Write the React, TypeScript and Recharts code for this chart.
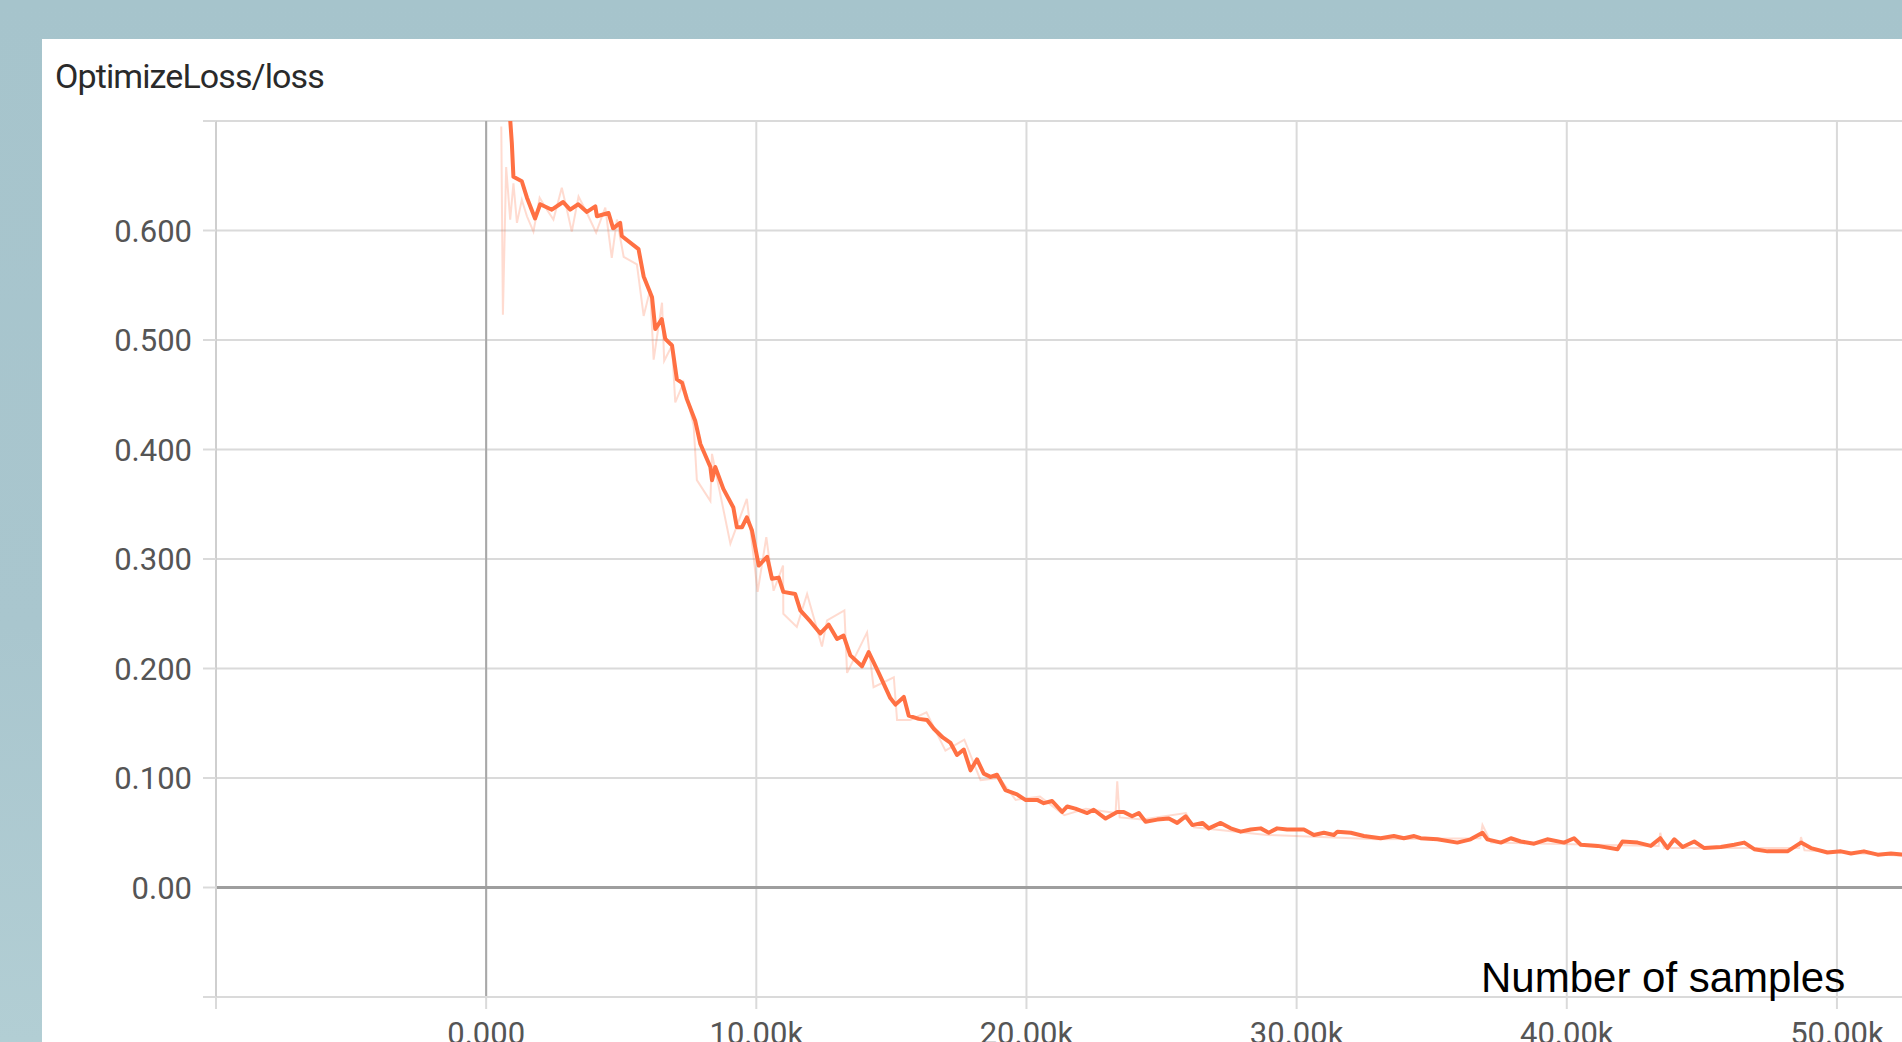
import React from "react";
import { LineChart, Line, XAxis, YAxis, CartesianGrid, ReferenceLine } from "recharts";

const chartTitle = "OptimizeLoss/loss";
const xAxisCaption = "Number of samples";

// smoothed loss (step in thousands of samples)
const smoothStepsK = [
  0.78, 0.95, 1.01, 1.32, 1.51, 1.81, 2.0, 2.43, 2.85, 3.11, 3.41, 3.73, 4.04, 4.1, 4.53, 4.7, 4.96, 5.02,
  5.64, 5.83, 6.14, 6.26, 6.5, 6.63, 6.88, 7.06, 7.25, 7.43, 7.74, 7.93, 8.3, 8.36, 8.48, 8.78, 9.15, 9.28,
  9.47, 9.65, 9.84, 10.09, 10.4, 10.58, 10.83, 11.0, 11.44, 11.63, 12.0, 12.37, 12.68, 12.99, 13.23, 13.48,
  13.91, 14.16, 14.53, 14.96, 15.15, 15.46, 15.64, 16.01, 16.32, 16.57, 16.9, 17.19, 17.43, 17.68, 17.93,
  18.17, 18.42, 18.67, 18.91, 19.22, 19.65, 19.96, 20.4, 20.64, 20.95, 21.32, 21.51, 21.81, 22.25, 22.49,
  22.93, 23.36, 23.6, 23.91, 24.16, 24.41, 24.84, 25.27, 25.58, 25.89, 26.14, 26.51, 26.75, 27.19, 27.56,
  27.93, 28.3, 28.67, 28.97, 29.28, 29.65, 30.03, 30.27, 30.64, 31.01, 31.38, 31.51, 32.0, 32.49, 33.11,
  33.6, 33.97, 34.35, 34.59, 35.21, 35.95, 36.44, 36.88, 37.06, 37.56, 37.93, 38.3, 38.79, 39.28, 39.9,
  40.27, 40.52, 41.14, 41.88, 42.06, 42.62, 43.11, 43.46, 43.73, 43.98, 44.29, 44.72, 45.09, 45.7, 46.2,
  46.57, 46.94, 47.43, 48.17, 48.67, 49.04, 49.65, 50.15, 50.52, 51.0, 51.51, 52.0, 52.43,
];
const smoothLoss = [
  0.74, 0.68, 0.649, 0.645, 0.63, 0.611, 0.624, 0.619, 0.626, 0.619, 0.624, 0.617, 0.622, 0.613, 0.616, 0.602,
  0.607, 0.595, 0.583, 0.558, 0.539, 0.51, 0.519, 0.501, 0.495, 0.464, 0.461, 0.446, 0.426, 0.405, 0.384,
  0.372, 0.384, 0.364, 0.347, 0.329, 0.329, 0.338, 0.326, 0.294, 0.302, 0.282, 0.283, 0.27, 0.268, 0.253,
  0.243, 0.232, 0.24, 0.227, 0.23, 0.212, 0.202, 0.215, 0.196, 0.173, 0.167, 0.174, 0.157, 0.154, 0.153,
  0.145, 0.137, 0.132, 0.121, 0.126, 0.107, 0.117, 0.104, 0.101, 0.103, 0.089, 0.085, 0.08, 0.08, 0.077,
  0.079, 0.069, 0.074, 0.072, 0.068, 0.071, 0.063, 0.069, 0.069, 0.065, 0.068, 0.06, 0.062, 0.063, 0.059,
  0.065, 0.057, 0.059, 0.054, 0.059, 0.054, 0.051, 0.053, 0.054, 0.05, 0.054, 0.053, 0.053, 0.053, 0.048,
  0.05, 0.048, 0.051, 0.05, 0.047, 0.045, 0.047, 0.045, 0.047, 0.045, 0.044, 0.041, 0.044, 0.05, 0.044,
  0.041, 0.045, 0.042, 0.04, 0.044, 0.041, 0.045, 0.039, 0.038, 0.035, 0.042, 0.041, 0.038, 0.045, 0.036,
  0.044, 0.037, 0.042, 0.036, 0.037, 0.039, 0.041, 0.035, 0.033, 0.033, 0.041, 0.036, 0.032, 0.033, 0.031,
  0.033, 0.03, 0.031, 0.03,
];

// raw (unsmoothed) loss, drawn faint
const rawStepsK = [
  0.56, 0.62, 0.74, 0.89, 1.01, 1.14, 1.32, 1.51, 1.75, 1.98, 2.25, 2.49, 2.8, 2.99, 3.17, 3.42, 3.73, 4.07,
  4.41, 4.65, 4.84, 5.09, 5.58, 5.83, 6.07, 6.2, 6.51, 6.59, 6.88, 7.0, 7.31, 7.68, 7.8, 8.3, 8.36, 9.04,
  9.65, 10.05, 10.37, 10.64, 10.99, 11.0, 11.5, 11.88, 12.43, 12.62, 13.26, 13.36, 14.1, 14.34, 15.09, 15.21,
  15.7, 16.3, 17.0, 17.7, 18.3, 19.0, 19.6, 20.5, 21.4, 22.2, 23.3, 23.36, 23.45, 24.3, 25.9, 26.2, 28.9,
  33.0, 36.8, 36.88, 37.2, 43.4, 43.46, 43.6, 48.6, 48.67, 48.8, 52.43,
];
const rawLoss = [
  0.695, 0.523, 0.658, 0.61, 0.643, 0.607, 0.628, 0.613, 0.599, 0.63, 0.619, 0.61, 0.639, 0.619, 0.599, 0.631,
  0.616, 0.598, 0.621, 0.575, 0.61, 0.576, 0.569, 0.522, 0.546, 0.482, 0.534, 0.481, 0.495, 0.443, 0.461,
  0.422, 0.372, 0.353, 0.396, 0.314, 0.355, 0.27, 0.32, 0.271, 0.294, 0.25, 0.238, 0.268, 0.22, 0.244, 0.253,
  0.196, 0.233, 0.183, 0.192, 0.153, 0.153, 0.16, 0.125, 0.135, 0.098, 0.1, 0.08, 0.083, 0.066, 0.072, 0.068,
  0.097, 0.064, 0.062, 0.068, 0.055, 0.048, 0.044, 0.045, 0.057, 0.041, 0.038, 0.05, 0.036, 0.036, 0.046,
  0.034, 0.029,
];

const xTicks = [-10000, 0, 10000, 20000, 30000, 40000, 50000];
const xTickLabels = ["", "0.000", "10.00k", "20.00k", "30.00k", "40.00k", "50.00k"];
const yTicks = [-0.1, 0, 0.1, 0.2, 0.3, 0.4, 0.5, 0.6, 0.7];
const yTickLabels = ["", "0.00", "0.100", "0.200", "0.300", "0.400", "0.500", "0.600", ""];

const smoothData = smoothStepsK.map((k, i) => ({ x: k * 1000, y: smoothLoss[i] }));
const rawData = rawStepsK.map((k, i) => ({ x: k * 1000, y: rawLoss[i] }));

const fmtX = (v: number) => {
  const i = xTicks.findIndex((t) => Math.abs(t - v) < 1e-6);
  return i >= 0 ? xTickLabels[i] : "";
};
const fmtY = (v: number) => {
  const i = yTicks.findIndex((t) => Math.abs(t - v) < 1e-9);
  return i >= 0 ? yTickLabels[i] : "";
};

const ORANGE = "#ff7043";
const GRID = "#dadada";
const tickStyle = { fill: "#555", fontSize: 31, fontFamily: "Roboto, sans-serif" };

export default function App() {
  return (
    <div
      style={{
        position: "fixed",
        left: 0,
        top: 0,
        width: 1902,
        height: 1042,
        overflow: "hidden",
        background: "linear-gradient(180deg, #a6c4cc 0%, #a9c6ce 60%, #b2ced4 100%)",
      }}
    >
      <div
        style={{
          position: "absolute",
          left: 42,
          top: 39,
          width: 1880,
          height: 1020,
          background: "#ffffff",
        }}
      />
      <div style={{ position: "absolute", left: 0, top: 0 }}>
        <LineChart
          width={1980}
          height={1042}
          margin={{ top: 121, right: 8, bottom: 0, left: 0 }}
        >
          <CartesianGrid stroke={GRID} strokeWidth={2} verticalValues={xTicks} horizontalValues={yTicks} />
          <XAxis
            type="number"
            dataKey="x"
            domain={[-10000, 55000]}
            allowDataOverflow
            ticks={xTicks}
            interval={0}
            tickFormatter={fmtX}
            height={45}
            tickSize={12}
            tickMargin={13}
            axisLine={{ stroke: GRID, strokeWidth: 2 }}
            tickLine={{ stroke: GRID, strokeWidth: 2 }}
            tick={tickStyle}
          />
          <YAxis
            type="number"
            dataKey="y"
            domain={[-0.1, 0.7]}
            allowDataOverflow
            ticks={yTicks}
            interval={0}
            tickFormatter={fmtY}
            width={216}
            tickSize={13}
            tickMargin={11}
            axisLine={{ stroke: "#cfcfcf", strokeWidth: 2 }}
            tickLine={{ stroke: GRID, strokeWidth: 2 }}
            tick={tickStyle}
          />
          <ReferenceLine x={0} stroke="#a8a8a8" strokeWidth={2} ifOverflow="hidden" />
          <ReferenceLine y={0} stroke="#9e9e9e" strokeWidth={3} ifOverflow="hidden" />
          <Line
            data={rawData}
            dataKey="y"
            type="linear"
            stroke={ORANGE}
            strokeOpacity={0.25}
            strokeWidth={2}
            dot={false}
            activeDot={false}
            isAnimationActive={false}
          />
          <Line
            data={smoothData}
            dataKey="y"
            type="linear"
            stroke={ORANGE}
            strokeWidth={4}
            strokeLinejoin="round"
            dot={false}
            activeDot={false}
            isAnimationActive={false}
          />
        </LineChart>
      </div>
      <svg
        width={1902}
        height={1042}
        style={{ position: "absolute", left: 0, top: 0, pointerEvents: "none" }}
      >
        <text
          x={55}
          y={88}
          fontFamily="Roboto, sans-serif"
          fontSize={34}
          letterSpacing={-0.9}
          fill="#2a2a2a"
        >
          {chartTitle}
        </text>
        <text
          x={1481}
          y={992}
          fontFamily="'Liberation Sans', Arial, sans-serif"
          fontSize={42}
          fill="#000"
        >
          {xAxisCaption}
        </text>
      </svg>
    </div>
  );
}
